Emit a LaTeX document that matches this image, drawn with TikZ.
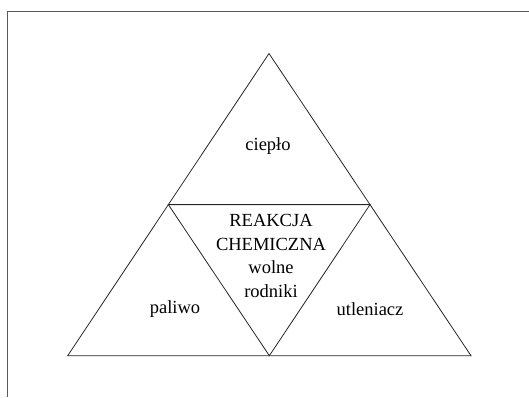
\documentclass[tikz,border=0pt]{standalone}
\usepackage{fontspec}
\setmainfont{Liberation Serif}
\usetikzlibrary{calc}
\begin{document}
\begin{tikzpicture}[x=1pt,y=-1pt,
  edge/.style={draw=black!85,line width=0.8pt,line join=miter},
  frame/.style={draw=black!65,line width=1pt},
  lbl/.style={font=\fontsize{18.5}{23.5}\selectfont,align=center,inner sep=0pt}]
\useasboundingbox (0,0) rectangle (529,397);
% frame
\coordinate (fl) at (7,397);
\coordinate (fc) at (7,11);
\coordinate (fr) at (529,11);
\draw[frame] (fl) -- (fc) -- (fr);
% outer vertices
\coordinate (A) at (269,53.5);
\coordinate (L) at (67.7,355.7);
\coordinate (R) at (471,355.7);
% inner vertices (midpoints)
\coordinate (ML) at ($(A)!0.5!(L)$);
\coordinate (MR) at ($(A)!0.5!(R)$);
\coordinate (MB) at ($(L)!0.5!(R)$);
\draw[edge] (A) -- (L) -- (R) -- cycle;
\draw[edge] (ML) -- (MR) -- (MB) -- cycle;
% labels
\node[lbl] (cieplo) at (268,146) {ciepło};
\node[lbl] (reakcja) at (271,256) {REAKCJA\\CHEMICZNA\\wolne\\rodniki};
\node[lbl] (paliwo) at (175,309) {paliwo};
\node[lbl] (utl) at (370,309) {utleniacz};
\end{tikzpicture}
\end{document}
